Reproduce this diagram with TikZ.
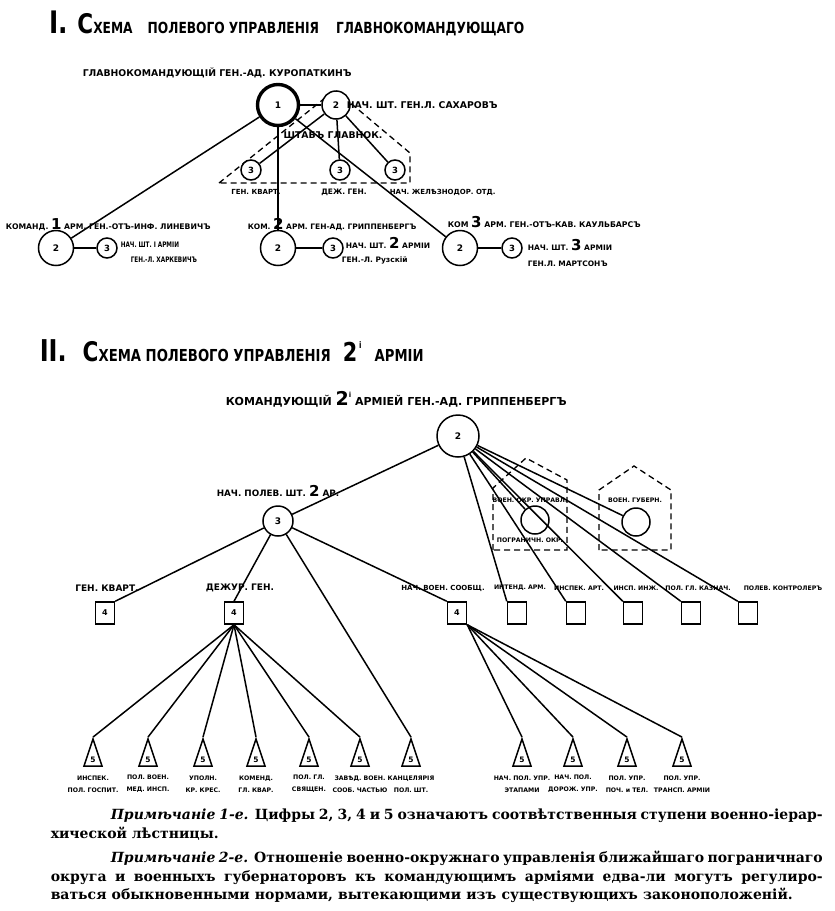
\documentclass[tikz,border=0pt]{standalone}
\usepackage{fontspec}
\setmainfont{DejaVu Serif}
\newfontfamily\labfont{DejaVu Sans}
\newfontfamily\narrowfont[FakeStretch=0.75]{DejaVu Sans}
\newfontfamily\ttlfont[FakeStretch=0.8]{DejaVu Sans}
\usetikzlibrary{shapes.geometric}

\newcommand{\bignum}[1]{{\fontsize{15}{15}\selectfont #1}}
\newcommand{\fsz}[1]{\fontsize{#1}{#1}\selectfont}

\tikzset{
  lab/.style={inner sep=0pt, font=\labfont\bfseries\fontsize{7.5}{9}\selectfont},
  headlab/.style={inner sep=0pt, font=\labfont\bfseries\fontsize{9.3}{10}\selectfont},
  narrowlab/.style={inner sep=0pt, font=\narrowfont\bfseries\fontsize{7.6}{9}\selectfont},
  sublab/.style={inner sep=0pt, align=center, font=\labfont\bfseries\fontsize{6.2}{12}\selectfont},
  ttl/.style={inner sep=0pt, font=\ttlfont\bfseries},
  chief/.style={circle, draw, line width=3.4pt, fill=white, minimum size=41pt, inner sep=0pt, font=\labfont\bfseries\fontsize{9}{9}\selectfont},
  rankbig/.style={circle, draw, fill=white, minimum size=35pt, inner sep=0pt, font=\labfont\bfseries\fontsize{9}{9}\selectfont},
  ranksm/.style={circle, draw, fill=white, minimum size=28pt, inner sep=0pt, font=\labfont\bfseries\fontsize{9}{9}\selectfont},
  rank/.style={circle, draw, fill=white, minimum size=20pt, inner sep=0pt, font=\labfont\bfseries\fontsize{8.5}{9}\selectfont},
  rankbox/.style={rectangle, draw, fill=white, minimum width=19pt, minimum height=22pt, inner sep=0pt, font=\labfont\bfseries\fontsize{8}{8}\selectfont},
  ranktri/.style={isosceles triangle, isosceles triangle stretches, shape border rotate=90, draw, fill=white, minimum width=18pt, minimum height=27pt, inner sep=0pt, font=\labfont\bfseries\fontsize{7.5}{7.5}\selectfont},
  staff/.style={dash pattern=on 6pt off 4pt, line width=1.3pt},
  note/.style={inner sep=0pt, anchor=base west, font=\bfseries\fontsize{14}{16}\selectfont},
}

\begin{document}
\begin{tikzpicture}[x=1pt,y=1pt,yscale=-1,line width=1.5pt]
\useasboundingbox (0,0) rectangle (835,911);

% I. Title
\node[ttl, anchor=base west] (ttlA) at (49,33) {\fsz{31}I.\hspace{9pt}\fsz{27}С\fsz{15.3}ХЕМА\hspace{15pt}ПОЛЕВОГО\hspace{4pt}УПРАВЛЕНІЯ\hspace{17pt}ГЛАВНОКОМАНДУЮЩАГО};

% staff of the commander in chief (dashed)
\draw[staff] (219,183) -- (335,90) -- (410,153) -- (410,183) -- cycle;

% Nodes, part I
\node[chief] (gk) at (278,105) {1};
\node[ranksm] (ns) at (336,105) {2};
\node[rank] (kv) at (251,170) {3};
\node[rank] (dg) at (340,170) {3};
\node[rank] (zd) at (395,170) {3};
\node[rankbig] (a1) at (56,248) {2};
\node[rank] (a1s) at (107,248) {3};
\node[rankbig] (a2) at (278,248) {2};
\node[rank] (a2s) at (333,248) {3};
\node[rankbig] (a3) at (460,248) {2};
\node[rank] (a3s) at (512,248) {3};

% Lines, part I
\draw (gk) -- (ns);
\draw (ns) -- (kv);
\draw (ns) -- (dg);
\draw (ns) -- (zd);
\draw (gk) -- (a1);
\draw (gk) -- (a2);
\draw (gk) -- (a3);
\draw (a1) -- (a1s);
\draw (a2) -- (a2s);
\draw (a3) -- (a3s);

% Text, part I
\node[headlab, anchor=west] (lgk) at (82,73) {ГЛАВНОКОМАНДУЮЩІЙ ГЕН.-АД. КУРОПАТКИНЪ};
\node[headlab, anchor=west] (lns) at (346,105) {НАЧ. ШТ. ГЕН.Л. САХАРОВЪ};
\node[headlab] (lshtab) at (333,135) {ШТАБЪ ГЛАВНОК.};
\node[lab, font=\labfont\bfseries\fsz{7}] (lkv) at (256,192) {ГЕН. КВАРТ.};
\node[lab] (ldg) at (344,192) {ДЕЖ. ГЕН.};
\node[lab, anchor=west, font=\labfont\bfseries\fsz{7}] (lzd) at (389,192) {НАЧ. ЖЕЛѢЗНОДОР. ОТД.};
\node[lab, anchor=base west, font=\labfont\bfseries\fsz{7.7}] (la1) at (5,229) {КОМАНД. \bignum{1} АРМ. ГЕН.-ОТЪ-ИНФ. ЛИНЕВИЧЪ};
\node[narrowlab, anchor=west] (la1s) at (120,245) {НАЧ. ШТ. I АРМІИ};
\node[narrowlab, anchor=west] (la1h) at (130,260) {ГЕН.-Л. ХАРКЕВИЧЪ};
\node[lab, anchor=base west] (la2) at (247,229) {КОМ. \bignum{2} АРМ. ГЕН-АД. ГРИППЕНБЕРГЪ};
\node[lab, anchor=base west] (la2s) at (345,248) {НАЧ. ШТ. \bignum{2} АРМІИ};
\node[lab, anchor=west] (la2h) at (341,260) {ГЕН.-Л. Рузскій};
\node[lab, anchor=base west, font=\labfont\bfseries\fsz{7.8}] (la3) at (447,227) {КОМ \bignum{3} АРМ. ГЕН.-ОТЪ-КАВ. КАУЛЬБАРСЪ};
\node[lab, anchor=base west] (la3s) at (527,250) {НАЧ. ШТ. \bignum{3} АРМІИ};
\node[lab, anchor=west] (la3h) at (527,264) {ГЕН.Л. МАРТСОНЪ};

% II. Title
\node[ttl, anchor=base west] (ttlB) at (39,361) {\fsz{30}II.\hspace{16pt}\fsz{27}С\fsz{16.5}ХЕМА ПОЛЕВОГО УПРАВЛЕНІЯ\hspace{12pt}\fsz{26}2\hspace{2pt}\raisebox{13pt}{\fsz{9}і}\fsz{16.5}\hspace{13pt}АРМІИ};
\node[lab, anchor=base west, font=\labfont\bfseries\fsz{11}] (lcmd) at (225,405) {КОМАНДУЮЩІЙ {\fsz{19}2}\raisebox{8pt}{\fsz{7}і} АРМІЕЙ ГЕН.-АД. ГРИППЕНБЕРГЪ};

% border district and governor (dashed)
\draw[staff] (493,550) -- (493,488) -- (526,458) -- (567,480) -- (567,550) -- cycle;
\draw[staff] (599,550) -- (599,490) -- (634,466) -- (671,490) -- (671,550) -- cycle;

% Nodes, part II
\node[rankbig, minimum size=42pt] (cmd) at (458,436) {2};
\node[ranksm, minimum size=30pt] (shtab) at (278,521) {3};
\node[rank, minimum size=28pt] (vo) at (535,520) {};
\node[rank, minimum size=28pt] (vg) at (636,522) {};
\node[rankbox] (q1) at (105,613) {4};
\node[rankbox] (q2) at (234,613) {4};
\node[rankbox] (q3) at (457,613) {4};
\node[rankbox] (q4) at (517,613) {};
\node[rankbox] (q5) at (576,613) {};
\node[rankbox] (q6) at (633,613) {};
\node[rankbox] (q7) at (691,613) {};
\node[rankbox] (q8) at (748,613) {};
\node[ranktri] (t1) at (93,760) {5};
\node[ranktri] (t2) at (148,760) {5};
\node[ranktri] (t3) at (203,760) {5};
\node[ranktri] (t4) at (256,760) {5};
\node[ranktri] (t5) at (309,760) {5};
\node[ranktri] (t6) at (360,760) {5};
\node[ranktri] (t7) at (411,760) {5};
\node[ranktri] (t8) at (522,760) {5};
\node[ranktri] (t9) at (573,760) {5};
\node[ranktri] (t10) at (627,760) {5};
\node[ranktri] (t11) at (682,760) {5};

% Lines, part II
\draw (cmd) -- (shtab);
\draw (cmd) -- (vo);
\draw (cmd) -- (vg);
\draw (cmd) -- (q4.north west);
\draw (cmd) -- (q5.north west);
\draw (cmd) -- (q6.north west);
\draw (cmd) -- (q7.north west);
\draw (cmd) -- (q8.north west);
\draw (shtab) -- (q1.north east);
\draw (shtab) -- (q2.north);
\draw (shtab) -- (q3.north west);
\draw (shtab) -- (t7.apex);
\draw (q2.south) -- (t1.apex);
\draw (q2.south) -- (t2.apex);
\draw (q2.south) -- (t3.apex);
\draw (q2.south) -- (t4.apex);
\draw (q2.south) -- (t5.apex);
\draw (q2.south) -- (t6.apex);
\draw (q3.south east) -- (t8.apex);
\draw (q3.south east) -- (t9.apex);
\draw (q3.south east) -- (t10.apex);
\draw (q3.south east) -- (t11.apex);

% Text, part II
\node[lab, anchor=base west, font=\labfont\bfseries\fsz{8.8}] (lshtab2) at (216,496) {НАЧ. ПОЛЕВ. ШТ. \bignum{2} АР.};
\node[sublab] (lvo) at (530,500) {ВОЕН. ОКР. УПРАВЛ.};
\node[sublab] (lvo2) at (530,540) {ПОГРАНИЧН. ОКР.};
\node[sublab] (lvg) at (635,500) {ВОЕН. ГУБЕРН.};
\node[sublab, font=\labfont\bfseries\fsz{9}] (lq1) at (107,588) {ГЕН. КВАРТ.};
\node[sublab, font=\labfont\bfseries\fsz{9}] (lq2) at (240,588) {ДЕЖУР. ГЕН.};
\node[sublab, font=\labfont\bfseries\fsz{7}] (lq3) at (443,588) {НАЧ. ВОЕН. СООБЩ.};
\node[sublab] (lq4) at (520,588) {ИНТЕНД. АРМ.};
\node[sublab] (lq5) at (579,588) {ИНСПЕК. АРТ.};
\node[sublab] (lq6) at (636,588) {ИНСП. ИНЖ.};
\node[sublab] (lq7) at (698,588) {ПОЛ. ГЛ. КАЗНАЧ.};
\node[sublab] (lq8) at (783,588) {ПОЛЕВ. КОНТРОЛЕРЪ};
\node[sublab] (lt1) at (93,784) {ИНСПЕК.\\ПОЛ. ГОСПИТ.};
\node[sublab] (lt2) at (148,784) {ПОЛ. ВОЕН.\\МЕД. ИНСП.};
\node[sublab] (lt3) at (203,784) {УПОЛН.\\КР. КРЕС.};
\node[sublab] (lt4) at (256,784) {КОМЕНД.\\ГЛ. КВАР.};
\node[sublab] (lt5) at (309,784) {ПОЛ. ГЛ.\\СВЯЩЕН.};
\node[sublab] (lt6) at (360,784) {ЗАВѢД. ВОЕН.\\СООБ. ЧАСТЬЮ};
\node[sublab] (lt7) at (411,784) {КАНЦЕЛЯРІЯ\\ПОЛ. ШТ.};
\node[sublab] (lt8) at (522,784) {НАЧ. ПОЛ. УПР.\\ЭТАПАМИ};
\node[sublab] (lt9) at (573,784) {НАЧ. ПОЛ.\\ДОРОЖ. УПР.};
\node[sublab] (lt10) at (627,784) {ПОЛ. УПР.\\ПОЧ. и ТЕЛ.};
\node[sublab] (lt11) at (682,784) {ПОЛ. УПР.\\ТРАНСП. АРМІИ};

% Notes
\node[note] (n1) at (110,819) {\makebox[712pt][s]{\textit{Примѣчаніе 1-е.} Цифры 2, 3, 4 и 5 означаютъ соотвѣтственныя ступени военно-іерар-}};
\node[note] (n2) at (50,838) {хической лѣстницы.};
\node[note] (n3) at (110,862) {\makebox[712pt][s]{\textit{Примѣчаніе 2-е.} Отношеніе военно-окружнаго управленія ближайшаго пограничнаго}};
\node[note] (n4) at (50,881) {\makebox[772pt][s]{округа и военныхъ губернаторовъ къ командующимъ арміями едва-ли могутъ регулиро-}};
\node[note] (n5) at (50,899) {\makebox[742pt][s]{ваться обыкновенными нормами, вытекающими изъ существующихъ законоположеній.}};
\end{tikzpicture}
\end{document}
